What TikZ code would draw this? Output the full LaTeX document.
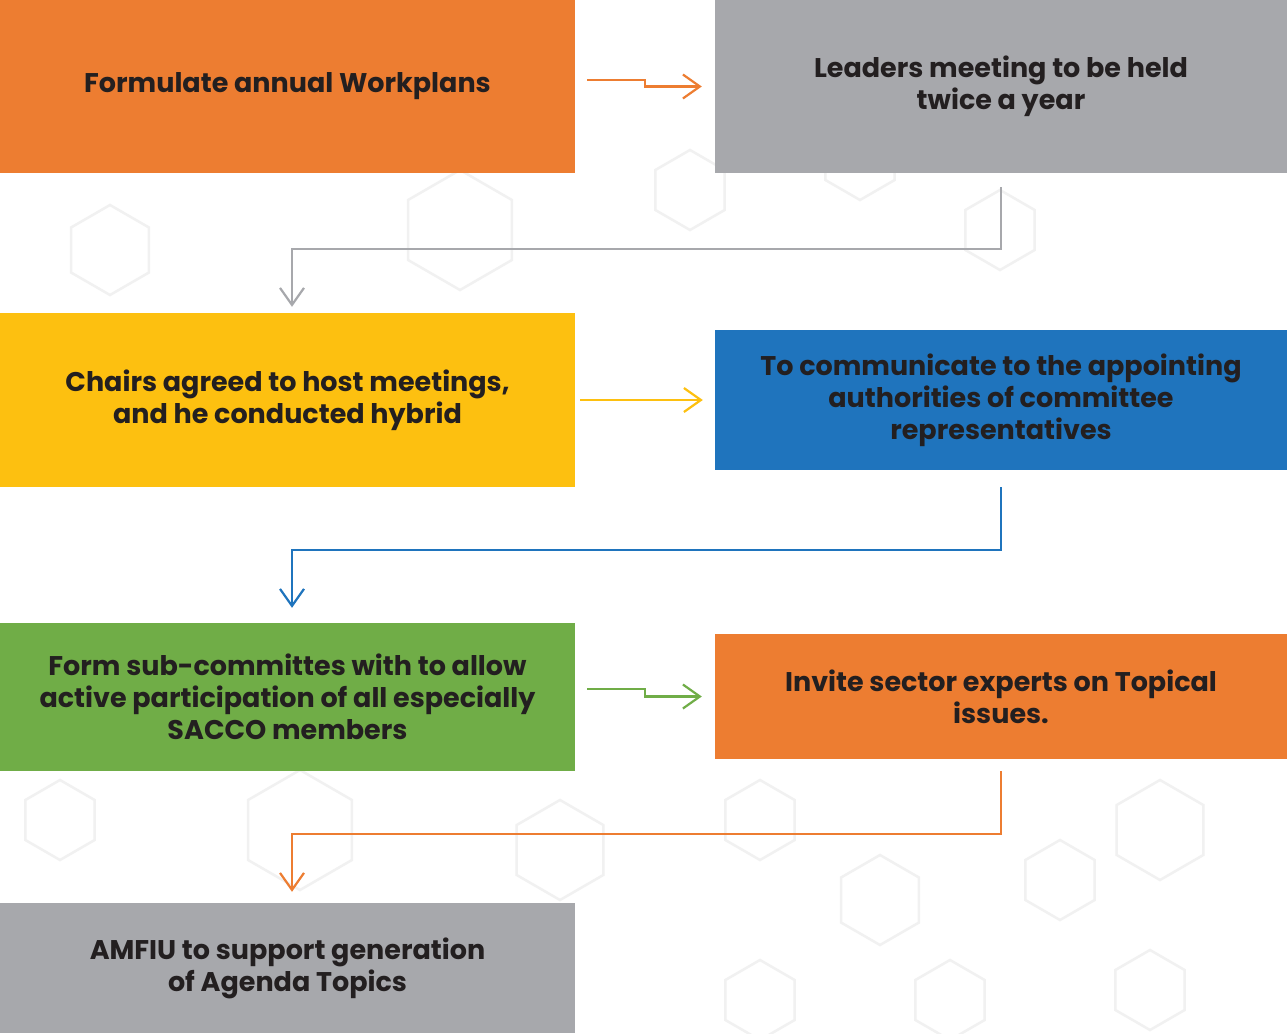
\documentclass[tikz,border=0pt]{standalone}
\usepackage{fontspec}
\setmainfont{Poppins}
\usetikzlibrary{arrows.meta}
\definecolor{corange}{HTML}{ED7D31}
\definecolor{cgray}{HTML}{A7A8AC}
\definecolor{cyellow}{HTML}{FDC010}
\definecolor{cblue}{HTML}{1F74BD}
\definecolor{cgreen}{HTML}{70AD47}
\definecolor{ctext}{HTML}{231F20}
\definecolor{chex}{HTML}{F1F1F1}
\begin{document}
\begin{tikzpicture}[x=1pt,y=-1pt,
  box/.style={rectangle,inner sep=0pt,draw=none,align=center,text=ctext,
    font=\fontsize{27}{32}\selectfont\bfseries},
  conn/.style={line width=2.2pt,-{Straight Barb[length=17pt,width=24pt,line width=2.2pt]}},
  hexbg/.style={draw=chex,line width=2.5pt}]
\useasboundingbox (0,0) rectangle (1287,1033);
\fill[white] (0,0) rectangle (1287,1033);
% faint background hexagon pattern
\foreach \cx/\cy/\r in {110/250/45, 460/230/60, 690/190/40, 860/160/40, 1000/230/40,
  300/830/60, 560/850/50, 760/820/40, 880/900/45, 1060/880/40, 1160/830/50, 760/1000/40,
  950/1000/40, 1150/990/40, 60/820/40}
  \draw[hexbg] (\cx,\cy) ++(90:\r) -- ++(-30:\r) -- ++(-90:\r) -- ++(-150:\r) -- ++(150:\r) -- ++(90:\r) -- cycle;
\node[box,fill=corange,minimum width=575pt,minimum height=173pt] (b1) at (287.5,86.5) {Formulate annual Workplans};
\node[box,fill=cgray,minimum width=572pt,minimum height=173pt] (b2) at (1001,86.5) {Leaders meeting to be held\\twice a year};
\node[box,fill=cyellow,minimum width=575pt,minimum height=174pt] (b3) at (287.5,400) {Chairs agreed to host meetings,\\and he conducted hybrid};
\node[box,fill=cblue,minimum width=572pt,minimum height=140pt] (b4) at (1001,400) {To communicate to the appointing\\authorities of committee\\representatives};
\node[box,fill=cgreen,minimum width=575pt,minimum height=148pt] (b5) at (287.5,697) {Form sub-committes with to allow\\active participation of all especially\\SACCO members};
\node[box,fill=corange,minimum width=572pt,minimum height=125pt] (b6) at (1001,696.5) {Invite sector experts on Topical\\issues.};
\node[box,fill=cgray,minimum width=575pt,minimum height=130pt] (b7) at (287.5,968) {AMFIU to support generation\\of Agenda Topics};
% connectors
\draw[conn,corange] ([xshift=12pt,yshift=6.5pt]b1.east) -- ++(58,0) |- ([xshift=-13pt]b2.west);
\draw[conn,cgray] ([yshift=-14pt]b2.south) -- ++(0,62) -| ([xshift=4.5pt,yshift=6pt]b3.north);
\draw[conn,cyellow] ([xshift=5pt]b3.east) -- ([xshift=-12pt]b4.west);
\draw[conn,cblue] ([yshift=-17pt]b4.south) -- ++(0,63) -| ([xshift=4.5pt,yshift=15pt]b5.north);
\draw[conn,cgreen] ([xshift=12pt,yshift=8pt]b5.east) -- ++(58,0) |- ([xshift=-13pt]b6.west);
\draw[conn,corange] ([yshift=-12pt]b6.south) -- ++(0,63) -| ([xshift=4.5pt,yshift=11pt]b7.north);
\end{tikzpicture}
\end{document}
